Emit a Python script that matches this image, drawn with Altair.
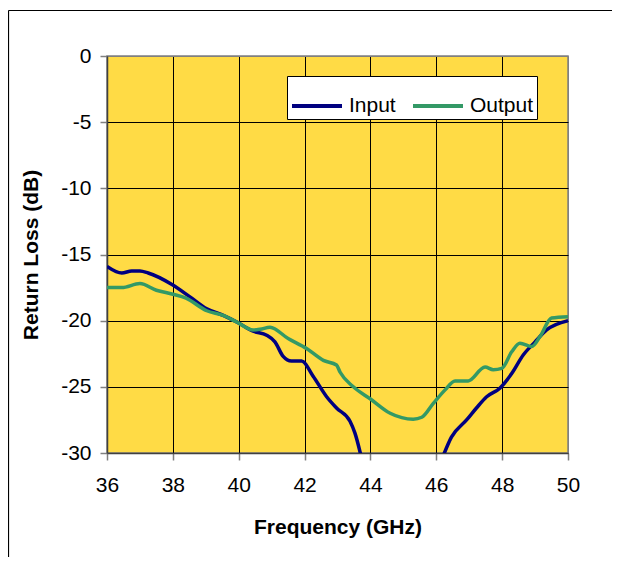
import altair as alt
import pandas as pd

# Input return loss (two visible pieces; the curve dips below -30 dB between them)
freq_in = [36.0, 36.45, 36.75, 37.0, 37.25, 37.96, 38.52, 39.03, 39.53, 39.94,
           40.44, 40.85, 41.1, 41.35, 41.6, 41.91, 42.26, 42.67, 42.97, 43.38,
           43.53, 43.75,
           46.15, 46.46, 46.92, 47.22, 47.53, 47.93, 48.29, 48.64, 49.0, 49.35, 50.0]
rl_in = [-15.9, -16.4, -16.25, -16.25, -16.4, -17.25, -18.2, -19.1, -19.6, -20.1,
         -20.8, -21.1, -21.6, -22.7, -23.05, -23.05, -24.2, -25.75, -26.6, -27.6,
         -28.5, -30.6,
         -30.6, -28.8, -27.5, -26.6, -25.75, -25.1, -24.0, -22.6, -21.6, -20.7, -20.0]
seg_in = [1] * 22 + [2] * 11

freq_out = [36.0, 36.45, 37.0, 37.5, 38.0, 38.4, 39.03, 39.53, 39.94, 40.44,
            40.65, 40.95, 41.5, 42.06, 42.57, 42.97, 43.08, 43.48, 43.99, 44.6,
            45.3, 45.56, 45.91, 46.26, 46.57, 46.97, 47.48, 47.73, 47.99, 48.29,
            48.54, 48.9, 49.15, 49.5, 50.0]
rl_out = [-17.5, -17.5, -17.2, -17.7, -18.0, -18.3, -19.25, -19.6, -20.1, -20.7,
          -20.65, -20.5, -21.35, -22.1, -23.0, -23.35, -23.9, -25.0, -25.9, -27.0,
          -27.45, -27.3, -26.25, -25.25, -24.55, -24.55, -23.5, -23.7, -23.6, -22.35,
          -21.7, -21.95, -21.2, -19.8, -19.7]

series = ["Input", "Output"]
colors = ["#000080", "#339966"]
x_ticks = [36, 38, 40, 42, 44, 46, 48, 50]
y_ticks = [0, -5, -10, -15, -20, -25, -30]

df = pd.concat([
    pd.DataFrame({"f": freq_in, "rl": rl_in, "series": "Input",
                  "seg": [f"in{s}" for s in seg_in]}),
    pd.DataFrame({"f": freq_out, "rl": rl_out, "series": "Output", "seg": "out"}),
])

FONT = "Liberation Sans"

lines = alt.Chart(df).mark_line(clip=True, strokeWidth=3.5, strokeJoin="round",
                                interpolate="monotone").encode(
    x=alt.X("f:Q", scale=alt.Scale(domain=[36, 50], nice=False, zero=False),
            axis=alt.Axis(values=x_ticks, title="Frequency (GHz)",
                          titleX=230.5, titleY=80, titleBaseline="alphabetic",
                          labelPadding=14, labelFlush=False,
                          labelExpr="'' + datum.value",
                          gridColor={"condition": {"test": "datum.value == 50",
                                                   "value": "#808080"},
                                     "value": "black"})),
    y=alt.Y("rl:Q", scale=alt.Scale(domain=[-30, 0], nice=False, zero=False),
            axis=alt.Axis(values=y_ticks, title="Return Loss (dB)",
                          titleX=-70, titleY=198.5, titleAngle=270,
                          titleAlign="center", titleBaseline="alphabetic",
                          labelPadding=9, labelFlush=False,
                          labelExpr="'' + datum.value",
                          gridColor={"condition": {"test": "datum.value == 0",
                                                   "value": "#808080"},
                                     "value": "black"})),
    color=alt.Color("series:N", scale=alt.Scale(domain=series, range=colors),
                    legend=alt.Legend(title=None, orient="none", legendX=180,
                                      legendY=20, direction="horizontal",
                                      symbolType="stroke", symbolSize=2500,
                                      symbolStrokeWidth=4, labelOffset=5,
                                      columnPadding=9, padding=3,
                                      fillColor="white", strokeColor="black",
                                      labelFontSize=21, labelFont=FONT,
                                      labelColor="black")),
    detail="seg:N",
    order=alt.Order("f:Q"),
)

border_top = alt.Chart().mark_rule(color="black", strokeWidth=1.2).encode(
    x=alt.value(-98.5), x2=alt.value(520), y=alt.value(-45.5))
border_left = alt.Chart().mark_rule(color="black", strokeWidth=1.2).encode(
    x=alt.value(-98.5), y=alt.value(-45.5), y2=alt.value(530))

chart = alt.layer(border_top, border_left, lines).properties(
    width=461, height=397,
    autosize=alt.AutoSizeParams(type="none"),
    padding={"left": 99, "top": 48, "right": 44, "bottom": 104},
    background="white",
).configure_view(
    fill="#FFDB45", stroke="#808080", strokeWidth=1.5,
).configure_axis(
    grid=True, gridWidth=1, gridOpacity=1,
    domainColor="#404040", domainWidth=1.5,
    tickColor="#808080", tickSize=7, tickWidth=1.5,
    labelFont=FONT, labelFontSize=21, labelColor="black",
    titleFont=FONT, titleFontSize=21, titleFontWeight="bold", titleColor="black",
)

chart.save("out.html", embed_options={"renderer": "svg", "actions": False})
